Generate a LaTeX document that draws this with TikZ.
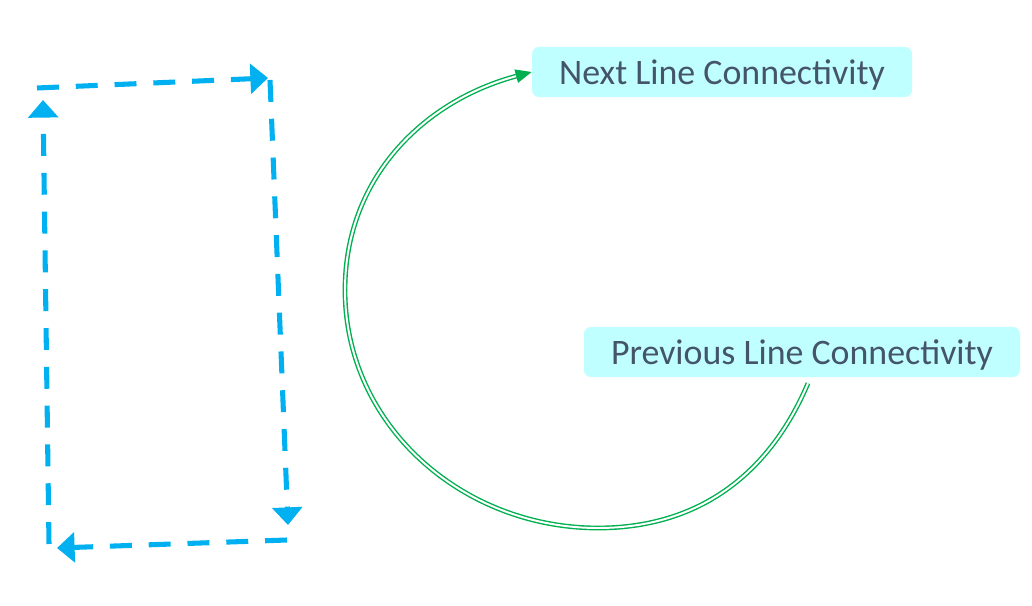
\documentclass[tikz,border=0pt]{standalone}
\usepackage{fontspec}
\setmainfont{Carlito}
\usepackage{xcolor}
\definecolor{skyblue}{HTML}{00B0F0}
\definecolor{leafgreen}{HTML}{00B050}
\definecolor{paleaqua}{HTML}{C0FFFF}
\definecolor{slate}{HTML}{44546A}
\usepackage{tikz}
\usetikzlibrary{arrows.meta}
\tikzset{
  tagbox/.style={fill=paleaqua, rounded corners=5pt, text=slate, font=\fontsize{25.5}{30}\selectfont, minimum height=1.25cm, inner sep=0pt, text depth=0pt},
  loopedge/.style={skyblue, line width=3.6pt, dash pattern=on 15.6pt off 12pt, -{Triangle[length=4.4mm, width=7.4mm]}},
  linkedge/.style={leafgreen, line width=1pt, double=white, double distance=1.4pt, -{Triangle[length=4mm, width=3.4mm]}},
}

\begin{document}
\begin{tikzpicture}[x=0.025cm, y=0.025cm]
  \useasboundingbox (0,0) rectangle (1032,605);
  % labels
  \node[tagbox, minimum width=9.5cm] (next) at (722,533) {Next Line Connectivity};
  \node[tagbox, minimum width=10.9cm] (prev) at (802,253) {Previous Line Connectivity};
  % dashed loop
  \coordinate (lb) at (49,61);
  \coordinate (lt) at (43,505);
  \coordinate (tl) at (37,517);
  \coordinate (tr) at (268,527);
  \coordinate (rt) at (270,525);
  \coordinate (rb) at (288,80);
  \coordinate (br) at (287,65);
  \coordinate (bl) at (57,57);
  \draw[loopedge] (lb) -- (lt);
  \draw[loopedge] (tl) -- (tr);
  \draw[loopedge] (rt) -- (rb);
  \draw[loopedge] (br) -- (bl);
  % curved link
  \coordinate (arcstart) at ([xshift=0.15cm, yshift=-0.15cm]prev.south);
  \coordinate (arcbottom) at (598,77);
  \coordinate (arcleft) at (345,315);
  \draw[linkedge] (arcstart) to[out=-113, in=0] (arcbottom) to[out=180, in=-90] (arcleft) to[out=90, in=195] (next.west);
\end{tikzpicture}
\end{document}
